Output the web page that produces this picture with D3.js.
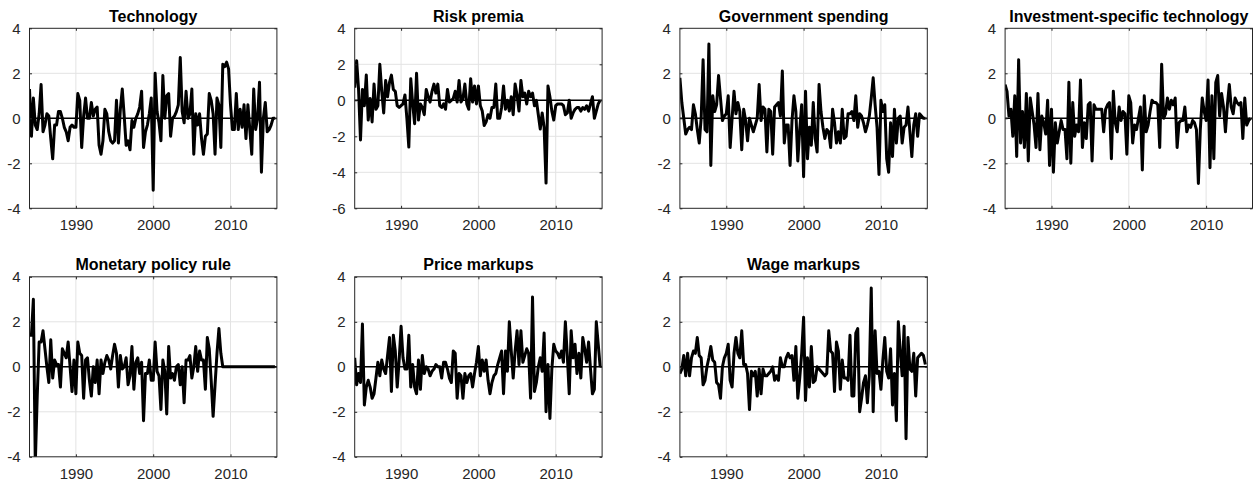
<!DOCTYPE html>
<html>
<head>
<meta charset="utf-8">
<script src="https://cdn.jsdelivr.net/npm/d3@7"></script>
<style>
  html, body { margin: 0; padding: 0; background: #fff; }
  svg { display: block; font-family: "Liberation Sans", Arial, Helvetica, sans-serif; }
</style>
</head>
<body>
<svg id="chart" width="1258" height="487"></svg>
<script>
// Quarterly smoothed structural shocks, 1984Q1 - 2015Q4
const startYear = 1984;

const technology = [
  1.3, -0.8, 0.9, -0.3, -0.5, 0.2, 1.5, -0.6, -0.3, 0.2, 0.1, -0.9, -1.8, -0.3, -0.3, 0.3,
  0.3, 0.0, -0.4, -0.6, -1.0, -0.4, -0.3, -0.4, -0.4, 1.1, 0.8, -1.3, 0.1, 0.9, 0.0, 0.0,
  0.7, 0.1, 0.4, 0.5, -1.2, -1.6, -1.0, 0.4, 0.2, -0.6, -1.0, -1.1, -1.0, 0.8, -1.1, 0.4,
  1.3, 0.1, -1.2, -1.0, -1.4, -0.1, -0.4, 0.0, 0.2, 0.5, 1.2, -1.3, -0.6, -0.3, 0.2, 0.9,
  -3.2, 2.0, 0.3, -0.2, -1.0, 1.9, 0.0, 1.0, 1.1, -0.8, 0.0, 0.1, 0.3, 0.6, 2.7, 0.3,
  -0.2, 1.2, 0.0, 0.2, 1.3, -1.6, 0.2, -0.3, 0.2, -0.9, -1.6, -0.8, -0.7, 1.1, 0.8, 0.2,
  -1.6, 0.9, 0.6, -1.3, 2.4, 2.3, 2.5, 2.2, 0.6, -0.5, -0.5, 1.1, -0.5, 0.4, -0.4, 0.6,
  -0.9, 0.6, -0.5, -1.6, 1.3, -0.5, 0.0, 1.6, -2.4, 0.0, 0.7, -0.6, -0.5, -0.3, 0.0, 0.0
];

const riskPremia = [
  0.7, 2.2, 0.6, -2.2, 0.6, -0.3, 1.4, -1.1, 0.1, -1.2, 0.9, -0.5, -0.3, 2.0, 0.5, -0.7,
  1.1, 0.2, 1.0, 1.4, 0.6, 0.5, -0.3, -0.4, -0.3, -0.2, 0.3, -1.0, -2.6, 1.2, -0.2, -1.3,
  1.5, -1.1, -0.2, -0.4, -0.8, 0.6, 0.2, -0.1, 0.5, 0.9, 0.4, 0.9, -0.3, -0.4, -0.2, -0.5,
  0.6, -0.1, 0.0, 0.1, 0.5, -0.1, 1.1, -0.1, 0.1, 0.9, -0.2, -0.5, 1.2, -0.1, 0.8, -0.2,
  0.8, -0.3, -0.6, -1.4, -1.2, -0.8, -1.0, -0.4, -0.4, 0.9, -1.0, -1.0, -0.4, 0.8, -0.5, 0.0,
  -0.6, 0.2, -0.8, 0.9, 0.3, -0.6, 1.1, 0.2, 0.4, -0.2, 0.5, 0.2, 0.4, -0.3, 0.0, -0.8,
  -1.6, -0.7, -1.5, -4.6, 0.8, 0.2, -0.6, -1.1, -0.3, -0.2, -0.2, -0.2, -0.3, -0.8, -0.7, 0.0,
  -1.0, -0.7, -0.5, -0.4, -0.4, -0.6, -0.4, -0.5, -0.3, -0.6, -0.2, 0.2, -1.0, -0.6, -0.2, 0.0
];

const governmentSpending = [
  1.8, 0.7, 0.0, -0.7, -0.5, -0.4, -0.5, 0.6, 0.2, -0.5, -1.1, 0.0, 2.6, -0.5, -0.6, 3.3,
  -2.1, 1.0, 0.3, 0.6, 1.9, 0.9, -0.1, 0.1, 0.2, 1.0, -1.3, 0.0, 1.2, 0.2, 0.7, 0.3,
  -1.4, 0.4, -0.1, -1.0, 0.0, -0.3, -0.6, -0.3, 0.0, 1.5, -0.1, 0.5, 0.4, -1.5, 0.4, 0.3,
  -1.6, 0.5, 0.6, 0.7, 0.1, 2.1, -1.1, -0.3, -0.3, -2.1, -0.1, 1.0, 0.3, -1.9, -0.5, 0.6,
  -2.6, 1.2, -1.8, -0.4, -1.2, 0.7, -0.9, -1.5, 1.5, 0.3, -0.4, -0.9, -0.5, -0.6, -1.3, 0.4,
  -0.2, -1.1, -0.6, -1.1, 0.4, -0.9, -0.8, 0.2, 0.2, 0.3, -0.1, 1.0, -0.4, 0.2, 0.1, -0.2,
  -0.6, -0.3, 0.1, 0.9, 1.8, 0.6, -0.4, -2.5, 0.8, 0.3, 0.6, -1.8, -2.4, -0.2, -1.7, 0.4,
  -1.1, 0.0, 0.1, -1.1, -0.4, -0.3, 0.5, -0.6, -1.7, -0.3, 0.2, -0.8, 0.2, 0.1, 0.0, 0.0
];

const investmentTech = [
  1.5, 1.2, 0.1, 0.4, -0.8, 1.0, -1.7, 2.6, -1.1, 0.3, -1.3, 1.1, -1.9, 0.9, 0.3, -0.3,
  -1.3, 1.1, -1.4, 0.1, -0.2, -0.7, 0.8, -2.1, 0.4, -2.4, -0.2, -1.1, -0.6, -0.1, -0.5, -0.5,
  -1.8, 1.6, -2.0, 0.7, -0.8, -0.3, -0.6, 1.7, -1.3, -0.2, -0.9, 0.6, 0.7, -1.9, 0.6, 0.4,
  0.4, 0.4, 0.4, -0.6, 0.4, 0.6, 0.7, -1.8, 1.2, -0.2, -0.6, 0.5, -0.1, 0.3, 0.2, -1.6,
  1.0, 0.7, -1.1, -0.3, -0.5, 0.0, 0.5, -2.3, 1.0, -0.6, -0.3, 0.3, 0.8, 0.7, 0.7, 0.6,
  -1.3, 2.4, 0.0, 0.2, 0.9, 0.4, 0.8, 0.6, 0.9, -1.3, -0.2, -0.1, -0.1, 0.5, -0.6, -0.3,
  -0.4, -0.1, -0.2, -0.5, -2.9, -0.5, 0.9, 0.3, -0.1, 1.7, -2.2, 1.0, -1.8, 1.6, 1.9, 0.1,
  1.1, 0.5, -0.6, 0.6, 1.5, 0.5, 0.2, 0.9, 0.7, 0.6, 0.7, -0.9, 0.9, -0.3, -0.1, 0.0
];

const monetaryPolicy = [
  1.4, 1.4, 3.0, -4.3, -1.3, 1.1, 1.1, 1.6, 0.8, 0.0, -0.7, 1.2, -0.5, 0.3, 0.1, 0.1,
  -0.9, 0.8, 0.6, 0.4, 1.1, 0.0, -1.1, 0.3, -1.2, 1.1, 0.6, 0.5, -1.4, 0.3, 0.4, -0.6,
  -1.3, 0.0, -0.7, 0.3, -1.2, 0.3, -0.3, 0.2, 0.5, 0.3, -0.1, 0.5, 1.0, 0.6, -0.9, 0.5,
  -0.1, 0.0, 0.4, -0.8, -0.4, 0.9, -1.0, 0.2, 0.4, -0.3, 0.2, -2.4, -0.3, -0.3, 0.3, -0.6,
  -0.6, 1.1, -0.2, -0.4, -1.9, 0.3, -0.2, -2.1, 0.9, -0.5, -0.3, -0.6, 0.0, 0.1, -0.8, 0.0,
  -1.6, 0.3, 0.3, 0.5, -0.5, 0.0, 0.9, -0.2, 0.7, 0.3, 0.3, -1.0, 1.3, 0.8, -0.6, -2.2,
  -0.8, 0.6, 1.7, 0.6, 0.0, 0.0, 0.0, 0.0, 0.0, 0.0, 0.0, 0.0, 0.0, 0.0, 0.0, 0.0,
  0.0, 0.0, 0.0, 0.0, 0.0, 0.0, 0.0, 0.0, 0.0, 0.0, 0.0, 0.0, 0.0, 0.0, 0.0, 0.0
];

const priceMarkups = [
  0.4, -0.8, -0.3, -0.7, 1.9, -1.7, -0.9, -0.6, -0.9, -1.4, -1.2, -0.5, 0.2, -0.4, 0.3, -0.1,
  -0.3, 0.5, 1.3, -1.1, 1.4, 0.7, -0.9, 0.3, 1.8, 0.4, -0.1, -0.1, 1.4, -0.9, 0.1, -0.9,
  -1.2, 0.3, -1.0, 0.5, -0.3, 0.0, -0.1, -0.4, -0.2, -0.1, 0.1, 0.0, 0.0, -0.5, 0.2, 0.2,
  -0.1, -0.5, -0.7, 0.7, 0.6, -1.4, -0.3, -0.4, -1.4, -0.3, -0.7, -0.4, -0.3, -0.9, -0.3, 0.2,
  0.9, -0.4, 0.3, -0.2, 0.3, -0.6, -1.2, -0.7, -0.4, -0.3, 0.1, 0.4, 0.7, -1.2, 0.7, -0.2,
  2.0, 0.7, -0.5, 0.7, 1.6, 0.1, 1.6, 0.2, 0.5, 0.8, 0.6, -1.4, 3.1, -1.1, -0.7, 0.0,
  0.4, -0.2, 1.5, -2.0, 0.1, -2.3, -0.1, 1.0, 0.7, 0.6, 0.4, 0.7, 0.2, 2.0, 0.5, -1.2,
  1.6, 0.4, 1.0, -0.3, 0.6, -0.5, 1.3, 0.8, 0.2, 1.1, -0.1, -1.2, -1.0, 2.0, 1.0, 0.0
];

const wageMarkups = [
  -0.3, -0.1, 0.5, -0.4, 0.6, -0.4, 0.4, 0.7, 0.6, 1.3, 0.5, 0.4, -0.8, -0.6, 0.0, 0.4,
  0.9, 0.3, 0.2, -0.7, -0.8, -1.4, 0.0, 0.4, 0.6, 1.0, -0.6, -0.9, 0.6, 1.3, 0.6, 0.4,
  1.6, 0.1, 0.1, -0.3, -1.9, -0.2, -0.4, -0.2, -1.3, -0.1, -1.2, -0.1, -0.4, -0.4, -0.3, -0.2,
  0.0, -0.6, -0.4, -0.6, 0.4, 0.0, 0.0, 0.4, 0.6, 0.4, 0.5, -0.6, 0.9, -1.4, -0.5, 0.6,
  2.2, -1.5, 0.4, -0.9, 0.9, -0.7, -0.6, 0.0, -0.1, -0.2, -0.3, -0.4, -0.3, 1.6, 0.7, 0.6,
  -1.1, 1.1, 0.7, -1.0, 0.3, -0.5, -0.5, -0.6, 1.4, -1.3, -1.3, 1.5, 1.7, -2.0, -1.4, -0.7,
  -0.4, -1.6, -0.4, 3.5, -2.0, 1.6, -0.3, -0.2, -1.0, 0.3, 1.3, -0.2, -0.5, 0.8, -1.7, -0.3,
  -2.4, 2.0, 0.7, -0.4, 1.8, -3.2, 1.3, -0.1, -0.2, 0.6, -1.3, 0.4, 0.5, 0.6, 0.5, 0.1
];

// Axis ticks
const xTicks = [1990, 2000, 2010];
const yTicksStd = [-4, -2, 0, 2, 4];
const yTicksRisk = [-6, -4, -2, 0, 2, 4];

const panels = [
  { title: "Technology", values: technology, yDomain: [-4, 4], yTicks: yTicksStd },
  { title: "Risk premia", values: riskPremia, yDomain: [-6, 4], yTicks: yTicksRisk },
  { title: "Government spending", values: governmentSpending, yDomain: [-4, 4], yTicks: yTicksStd },
  { title: "Investment-specific technology", values: investmentTech, yDomain: [-4, 4], yTicks: yTicksStd },
  { title: "Monetary policy rule", values: monetaryPolicy, yDomain: [-4, 4], yTicks: yTicksStd },
  { title: "Price markups", values: priceMarkups, yDomain: [-4, 4], yTicks: yTicksStd },
  { title: "Wage markups", values: wageMarkups, yDomain: [-4, 4], yTicks: yTicksStd }
];

// Layout of the 2 x 4 grid of axes
const colX = [29.5, 354.7, 679.9, 1005.1];
const rowY = [28.3, 276.8];
const W = 247.4, H = 180;

const axisColor = "#262626";
const gridColor = "#e3e3e3";

const svg = d3.select("#chart");

panels.forEach((p, k) => {
  const col = k % 4, row = Math.floor(k / 4);
  const g = svg.append("g").attr("transform", `translate(${colX[col]},${rowY[row]})`);

  const x = d3.scaleLinear().domain([1984, 2016]).range([0, W]);
  const y = d3.scaleLinear().domain(p.yDomain).range([H, 0]);

  const series = p.values.map((v, i) => ({ t: startYear + i / 4, v }));

  // grid
  g.append("g").selectAll("line").data(xTicks).join("line")
    .attr("x1", d => x(d)).attr("x2", d => x(d))
    .attr("y1", 0).attr("y2", H)
    .attr("stroke", gridColor).attr("stroke-width", 1);
  g.append("g").selectAll("line").data(p.yTicks.filter(d => d !== p.yDomain[0] && d !== p.yDomain[1])).join("line")
    .attr("x1", 0).attr("x2", W)
    .attr("y1", d => y(d)).attr("y2", d => y(d))
    .attr("stroke", gridColor).attr("stroke-width", 1);

  const clipId = "clip" + k;
  g.append("clipPath").attr("id", clipId)
    .append("rect").attr("x", 0).attr("y", 0).attr("width", W).attr("height", H);

  const plot = g.append("g").attr("clip-path", `url(#${clipId})`);

  // zero reference line
  plot.append("line")
    .attr("x1", 0).attr("x2", W)
    .attr("y1", y(0)).attr("y2", y(0))
    .attr("stroke", "#000").attr("stroke-width", 1.6);

  // shock series
  const line = d3.line().x(d => x(d.t)).y(d => y(d.v));
  plot.append("path")
    .datum(series)
    .attr("d", line)
    .attr("fill", "none")
    .attr("stroke", "#000")
    .attr("stroke-width", 3)
    .attr("stroke-linejoin", "round")
    .attr("stroke-linecap", "butt");

  // axes with inward ticks
  const fmt = d => String(d);
  const styleAxis = sel => {
    sel.select(".domain").remove();
    sel.selectAll(".tick line").attr("stroke", axisColor).attr("stroke-width", 1);
    sel.selectAll(".tick text").attr("fill", axisColor).style("font-size", "15px")
      .style("font-family", '"Liberation Sans", Arial, Helvetica, sans-serif');
  };

  g.append("g").attr("transform", `translate(0,${H})`)
    .call(d3.axisBottom(x).tickValues(xTicks).tickFormat(fmt).tickSize(-2.5).tickPadding(11.3))
    .call(styleAxis);
  g.append("g")
    .call(d3.axisTop(x).tickValues(xTicks).tickFormat("").tickSize(-2.5))
    .call(styleAxis);
  g.append("g")
    .call(d3.axisLeft(y).tickValues(p.yTicks).tickFormat(fmt).tickSize(-2.5).tickPadding(9))
    .call(styleAxis);
  g.append("g").attr("transform", `translate(${W},0)`)
    .call(d3.axisRight(y).tickValues(p.yTicks).tickFormat("").tickSize(-2.5))
    .call(styleAxis);

  // box
  g.append("rect")
    .attr("x", 0).attr("y", 0).attr("width", W).attr("height", H)
    .attr("fill", "none").attr("stroke", axisColor).attr("stroke-width", 1);

  // title
  g.append("text")
    .attr("x", W / 2).attr("y", -6.6)
    .attr("text-anchor", "middle")
    .attr("fill", "#000")
    .style("font-size", "16px").style("font-weight", "bold")
    .text(p.title);
});
</script>
</body>
</html>
